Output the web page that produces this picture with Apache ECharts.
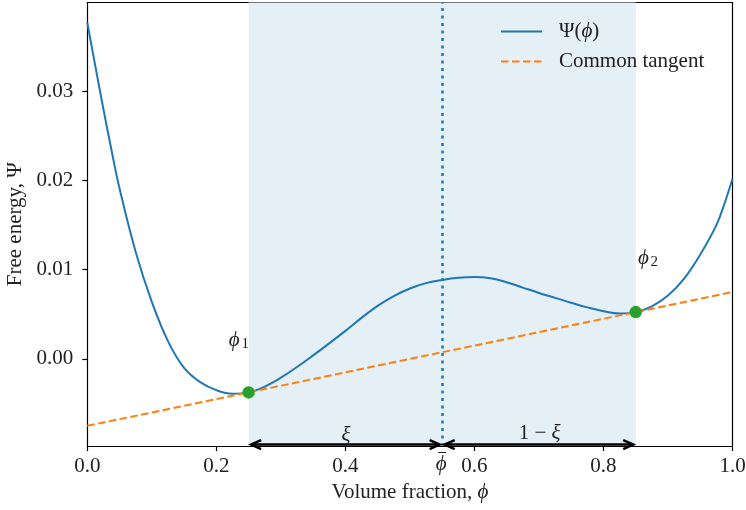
<!DOCTYPE html>
<html><head><meta charset="utf-8">
<script src="https://cdn.jsdelivr.net/npm/echarts@6/dist/echarts.min.js"></script>
<style>html,body{margin:0;padding:0;background:#fff}#c{width:746px;height:510px}</style>
</head><body><div id="c"></div>
<script>
// ---- data ----
const phiValues = [0, 0.0125, 0.025, 0.0375, 0.05, 0.075, 0.1, 0.125, 0.15, 0.175, 0.2, 0.225, 0.25,
  0.275, 0.3, 0.325, 0.35, 0.375, 0.4, 0.425, 0.45, 0.475, 0.5, 0.525, 0.55, 0.575, 0.6, 0.625,
  0.65, 0.675, 0.7, 0.725, 0.75, 0.775, 0.8, 0.825, 0.85, 0.875, 0.9, 0.925, 0.95, 0.975, 0.9875, 1.0];
const psiValues = [0.0377, 0.0328, 0.0280, 0.0234, 0.0191, 0.0120, 0.0064, 0.0020, -0.0010, -0.0026, -0.0035, -0.0039, -0.00375,
  -0.0031, -0.0021, -0.0009, 0.0004, 0.00175, 0.00315, 0.0046, 0.00595, 0.00705, 0.0079, 0.0085, 0.00885, 0.0091, 0.0092, 0.00905,
  0.0086, 0.0080, 0.0074, 0.00685, 0.0063, 0.00578, 0.00535, 0.0051, 0.00525, 0.0059, 0.0071, 0.0090, 0.0117, 0.0150, 0.0174, 0.0202];
const tangentPhi = [0, 1];
const tangentPsi = [-0.0075, 0.0075];
const coexPhi = [0.25, 0.85];
const coexPsi = [-0.00375, 0.00525];
const phiBar = 0.55;
const arrowFrom = [0.25, 0.55];
const arrowTo = [0.55, 0.85];
const arrowLevel = -0.0096;
const annoKinds = ['phi1', 'phi2', 'xi', 'oneMinusXi', 'phiBar'];
const annoPhi = [0.234, 0.868, 0.401, 0.701, phiBar];
const annoPsi = [0.00205, 0.01124, -0.0086, -0.0084, -0.00976];
const xTicks = [0, 0.2, 0.4, 0.6, 0.8, 1.0];
const yTicks = [0, 0.01, 0.02, 0.03];
const xRange = [0, 1];
const yRange = [-0.00976, 0.03996];
const seriesNames = ['Ψ(ϕ)', 'Common tangent'];

// ---- chart ----
const F = "'Liberation Serif','DejaVu Serif',serif";
const FS = 21;
const TXT = '#222';
const chart = echarts.init(document.getElementById('c'), null, {renderer: 'canvas'});

const curveData = phiValues.map((x, i) => [x, psiValues[i]]);
const tangentData = tangentPhi.map((x, i) => [x, tangentPsi[i]]);
const dotData = coexPhi.map((x, i) => [x, coexPsi[i]]);
const arrowData = arrowFrom.map((x, i) => [x, arrowTo[i], arrowLevel]);
const annoData = annoKinds.map((k, i) => [annoPhi[i], annoPsi[i], i]);

function arrowRender(params, api) {
  const a = api.coord([api.value(0), api.value(2)]);
  const b = api.coord([api.value(1), api.value(2)]);
  const s = 2.5, L = 10, H = 4.5;
  const x1 = a[0] + s, x2 = b[0] - s, y = a[1];
  const st = {stroke: '#000', lineWidth: 2.5, fill: null};
  return {type: 'group', children: [
    {type: 'line', shape: {x1: x1, y1: y, x2: x2, y2: y}, style: st},
    {type: 'polyline', shape: {points: [[x1 + L, y - H], [x1, y], [x1 + L, y + H]]}, style: st},
    {type: 'polyline', shape: {points: [[x2 - L, y - H], [x2, y], [x2 - L, y + H]]}, style: st}
  ]};
}

function annoRender(params, api) {
  const i = api.value(2);
  const p = api.coord([api.value(0), api.value(1)]);
  const kind = annoKinds[i];
  if (kind === 'phi1' || kind === 'phi2') {
    return {type: 'group', children: [
      {type: 'text', x: p[0] - 4, y: p[1], style: {text: 'ϕ', fontFamily: F, fontSize: FS, fontStyle: 'italic', fill: TXT, align: 'center', verticalAlign: 'middle'}},
      {type: 'text', x: p[0] + 7, y: p[1] + 3, style: {text: kind === 'phi1' ? '1' : '2', fontFamily: F, fontSize: 15, fill: TXT, align: 'center', verticalAlign: 'middle'}}
    ]};
  }
  if (kind === 'phiBar') {
    const cx = p[0] - 1, top = p[1];
    return {type: 'group', children: [
      {type: 'text', x: cx, y: top + 18, style: {text: 'ϕ', fontFamily: F, fontSize: FS, fontStyle: 'italic', fill: TXT, align: 'center', verticalAlign: 'middle'}},
      {type: 'line', shape: {x1: cx - 3, y1: top + 6.5, x2: cx + 5, y2: top + 6.5}, style: {stroke: TXT, lineWidth: 1}}
    ]};
  }
  const txt = kind === 'xi' ? '{i|ξ}' : '{r|1 − }{i|ξ}';
  return {type: 'text', x: p[0], y: p[1], style: {
    text: txt, align: 'center', verticalAlign: 'middle', fill: TXT,
    rich: {r: {fontFamily: F, fontSize: FS, fill: TXT}, i: {fontFamily: F, fontSize: FS, fontStyle: 'italic', fill: TXT}}
  }};
}

const axisLine = {show: true, onZero: false, lineStyle: {color: '#000', width: 1.2}};
const baseX = {type: 'value', min: xRange[0], max: xRange[1], splitLine: {show: false}};
const baseY = {type: 'value', min: yRange[0], max: yRange[1], splitLine: {show: false}};

chart.setOption({
  animation: false,
  backgroundColor: '#fff',
  grid: {left: 87.3, right: 13.5, top: 2.5, bottom: 64, containLabel: false, outerBoundsMode: 'none'},
  legend: {
    left: 500, top: 21, padding: 0, orient: 'vertical', itemWidth: 41, itemHeight: 14, itemGap: 9,
    data: seriesNames,
    itemStyle: {opacity: 0},
    textStyle: {fontFamily: F, fontSize: FS, color: TXT, lineHeight: 20, padding: [0, 0, 0, 12],
      rich: {r: {fontFamily: F, fontSize: FS, color: TXT, lineHeight: 20}, i: {fontFamily: F, fontSize: FS, fontStyle: 'italic', color: TXT, lineHeight: 20}}},
    formatter: n => n === seriesNames[0] ? '{r|Ψ(}{i|ϕ}{r|)}' : '{r|' + n + '}'
  },
  xAxis: [
    Object.assign({}, baseX, {
      position: 'bottom', interval: 0.2,
      axisLine: axisLine,
      axisTick: {show: true, inside: false, length: 5, lineStyle: {color: '#000', width: 1.2}},
      axisLabel: {show: true, margin: 10, customValues: xTicks, fontFamily: F, fontSize: FS, color: TXT, formatter: v => v.toFixed(1)},
      name: '{r|Volume fraction, }{i|ϕ}', nameLocation: 'middle', nameGap: 35,
      nameTextStyle: {rich: {r: {fontFamily: F, fontSize: FS, color: TXT}, i: {fontFamily: F, fontSize: FS, fontStyle: 'italic', color: TXT}}}
    }),
    Object.assign({}, baseX, {
      position: 'top', axisLine: axisLine, axisTick: {show: false}, axisLabel: {show: false}
    })
  ],
  yAxis: [
    Object.assign({}, baseY, {
      position: 'left', axisLine: axisLine,
      axisTick: {show: true, inside: false, length: 5, customValues: yTicks, lineStyle: {color: '#000', width: 1.2}},
      axisLabel: {show: true, margin: 14, customValues: yTicks, fontFamily: F, fontSize: FS, color: TXT, formatter: v => v.toFixed(2)},
      name: 'Free energy, Ψ', nameLocation: 'middle', nameGap: 55, nameRotate: 90,
      nameTextStyle: {fontFamily: F, fontSize: FS, color: TXT}
    }),
    Object.assign({}, baseY, {
      position: 'right', axisLine: axisLine, axisTick: {show: false}, axisLabel: {show: false}
    })
  ],
  series: [
    {
      type: 'line', name: '_span', z: 1, data: [[coexPhi[0], coexPsi[0]]], symbol: 'none',
      lineStyle: {opacity: 0}, silent: true, legendHoverLink: false,
      markArea: {silent: true, itemStyle: {color: '#e4eff6'}, data: [[{xAxis: coexPhi[0]}, {xAxis: coexPhi[1]}]]},
      markLine: {silent: true, symbol: 'none', label: {show: false},
        lineStyle: {color: '#1f77b4', width: 2.5, type: [3, 4.5]}, data: [{xAxis: phiBar}]}
    },
    {
      type: 'line', name: seriesNames[0], data: curveData, symbol: 'none', smooth: 0.4, z: 3,
      lineStyle: {color: '#1f77b4', width: 2}, itemStyle: {color: '#1f77b4'}
    },
    {
      type: 'line', name: seriesNames[1], data: tangentData, symbol: 'none', z: 3,
      lineStyle: {color: '#ff7f0e', width: 2, type: [7.5, 3.5]}, itemStyle: {color: '#ff7f0e'}
    },
    {
      type: 'scatter', name: '_dots', data: dotData, symbolSize: 12.5, z: 5,
      itemStyle: {color: '#2ca02c', opacity: 1}
    },
    {
      type: 'custom', name: '_arrows', data: arrowData, renderItem: arrowRender, z: 6, clip: false,
      encode: {x: [0, 1], y: 2}
    },
    {
      type: 'custom', name: '_anno', data: annoData, renderItem: annoRender, z: 6, clip: false,
      encode: {x: 0, y: 1}
    }
  ]
});
</script></body></html>
